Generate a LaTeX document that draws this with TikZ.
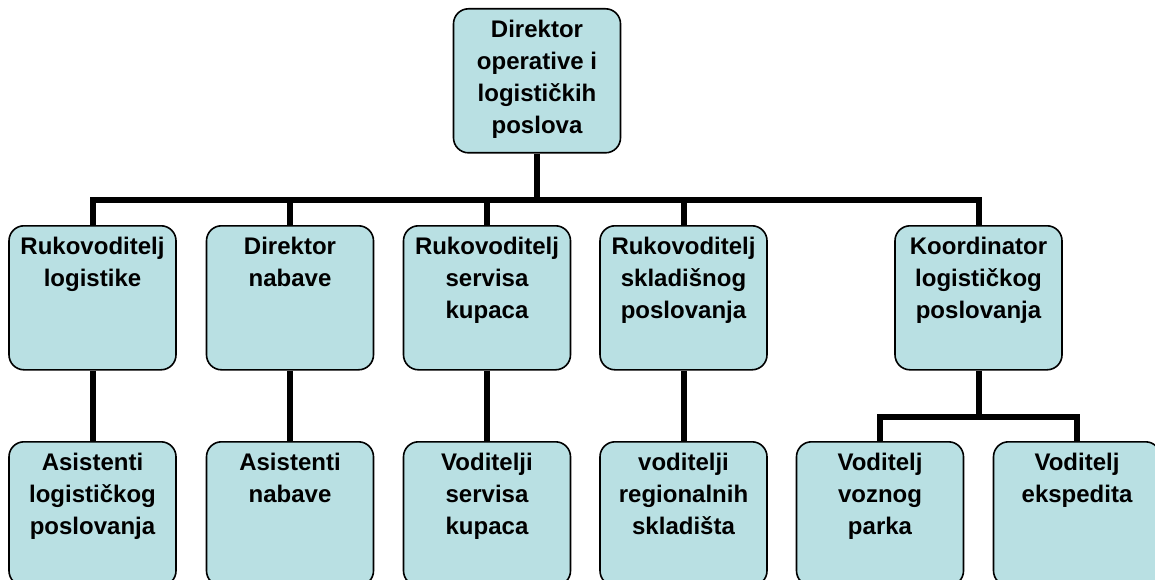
\documentclass[tikz,border=0pt]{standalone}
\usepackage{fontspec}
\setmainfont{Liberation Sans}
\usetikzlibrary{backgrounds}
\definecolor{boxblue}{RGB}{185,224,227}
\tikzset{
  orgbox/.style={draw=black, line width=1.6pt, fill=boxblue, rounded corners=15pt,
    minimum width=167pt, minimum height=144pt, anchor=north, inner sep=0pt},
  orgtext/.style={font=\bfseries\fontsize{24}{32}\selectfont, align=center, anchor=north, inner sep=0pt},
  conn/.style={line width=6pt, draw=black, line join=miter}
}
\begin{document}
\begin{tikzpicture}[x=1pt,y=-1pt]
\useasboundingbox (0,0) rectangle (1155,580);
\clip (0,0) rectangle (1155,580);
% top
\node[orgbox] (top) at (537,8) {};
% upper row
\node[orgbox] (b1) at (92.5,225) {};
\node[orgbox] (b2) at (290,225) {};
\node[orgbox] (b3) at (487,225) {};
\node[orgbox] (b4) at (683.5,225) {};
\node[orgbox] (b5) at (978.5,225) {};
% lower row
\node[orgbox] (c1) at (92.5,441) {};
\node[orgbox] (c2) at (290,441) {};
\node[orgbox] (c3) at (487,441) {};
\node[orgbox] (c4) at (683.5,441) {};
\node[orgbox] (c5) at (880,441) {};
\node[orgbox] (c6) at (1077,441) {};
% texts
\node[orgtext] (ttop) at ([yshift=-12pt]top.north) {Direktor\\operative i\\logističkih\\poslova};
\node[orgtext] (tb1) at ([yshift=-12pt]b1.north) {Rukovoditelj\\logistike};
\node[orgtext] (tb2) at ([yshift=-12pt]b2.north) {Direktor\\nabave};
\node[orgtext] (tb3) at ([yshift=-12pt]b3.north) {Rukovoditelj\\servisa\\kupaca};
\node[orgtext] (tb4) at ([yshift=-12pt]b4.north) {Rukovoditelj\\skladišnog\\poslovanja};
\node[orgtext] (tb5) at ([yshift=-12pt]b5.north) {Koordinator\\logističkog\\poslovanja};
\node[orgtext] (tc1) at ([yshift=-12pt]c1.north) {Asistenti\\logističkog\\poslovanja};
\node[orgtext] (tc2) at ([yshift=-12pt]c2.north) {Asistenti\\nabave};
\node[orgtext] (tc3) at ([yshift=-12pt]c3.north) {Voditelji\\servisa\\kupaca};
\node[orgtext] (tc4) at ([yshift=-12pt]c4.north) {voditelji\\regionalnih\\skladišta};
\node[orgtext] (tc5) at ([yshift=-12pt]c5.north) {Voditelj\\voznog\\parka};
\node[orgtext] (tc6) at ([yshift=-12pt]c6.north) {Voditelj\\ekspedita};
\coordinate (bus) at (537,200);
\coordinate (bus2) at (978.5,417);
\begin{scope}[on background layer]
\fill[white] (0,0) rectangle (1155,580);
\draw[conn] (top.south) -- (top.south |- bus);
\draw[conn] (b1.north) |- (b5.north |- bus) -- (b5.north);
\draw[conn] (b2.north) -- (b2.north |- bus);
\draw[conn] (b3.north) -- (b3.north |- bus);
\draw[conn] (b4.north) -- (b4.north |- bus);
\draw[conn] (b1.south) -- (c1.north);
\draw[conn] (b2.south) -- (c2.north);
\draw[conn] (b3.south) -- (c3.north);
\draw[conn] (b4.south) -- (c4.north);
\draw[conn] (b5.south) -- (bus2);
\draw[conn] (c5.north) |- (c6.north |- bus2) -- (c6.north);
\end{scope}
\end{tikzpicture}
\end{document}
